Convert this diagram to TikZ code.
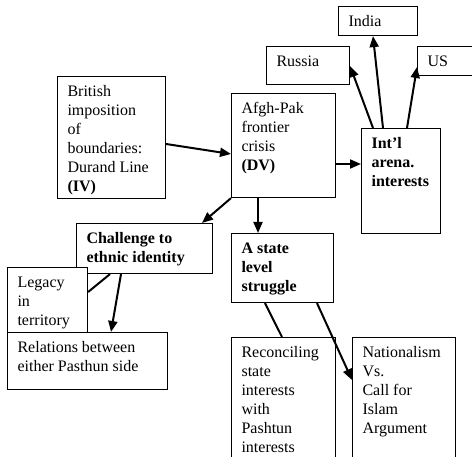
\documentclass[tikz,border=0pt]{standalone}
\usepackage{fontspec}
\setmainfont{Liberation Serif}
\usetikzlibrary{arrows.meta}

\newcommand{\boxtext}[3]{\parbox[t][#2][t]{#1}{\raggedright\leftskip=10pt\rule{0pt}{20pt}#3}}

\begin{document}
\begin{tikzpicture}[x=1pt,y=-1pt,
        box/.style={draw, fill=white, line width=1.1pt, inner sep=0pt, anchor=north west,
            font=\fontsize{16}{19}\selectfont},
        conn/.style={line width=2pt},
        tip/.style={conn, -{Triangle[length=11pt,width=9pt]}}]
    \useasboundingbox (0,0) rectangle (472,457);
    % boxes
    \node[box] (brit) at (57,76) {\boxtext{108pt}{122pt}{British\\imposition\\of\\boundaries:\\Durand Line\\\textbf{(IV)}}};
    \node[box] (afgh) at (231,93) {\boxtext{104pt}{104pt}{Afgh-Pak\\frontier\\crisis\\\textbf{(DV)}}};
    \node[box] (intl) at (361,128) {\boxtext{79pt}{105pt}{\bfseries Int’l\\arena.\\interests}};
    \node[box] (russia) at (266,46) {\boxtext{83pt}{38pt}{Russia}};
    \node[box] (india) at (338,6) {\boxtext{79pt}{29pt}{India}};
    \node[box] (us) at (417,46) {\boxtext{70pt}{29pt}{US}};
    \node[box] (chal) at (76,223) {\boxtext{136pt}{50pt}{\bfseries Challenge to\\ethnic identity}};
    \node[box] (legacy) at (7,267) {\boxtext{80pt}{65pt}{Legacy\\in\\territory}};
    \node[box] (rel) at (7,332) {\boxtext{160pt}{57pt}{Relations between\\either Pasthun side}};
    \node[box] (state) at (231,233) {\boxtext{102pt}{69pt}{\bfseries A state\\level\\struggle}};
    \node[box] (recon) at (231,337) {\boxtext{104pt}{140pt}{Reconciling\\state\\interests\\with\\Pashtun\\interests}};
    \node[box] (nat) at (352,337) {\boxtext{103pt}{140pt}{Nationalism\\Vs.\\Call for\\Islam\\Argument}};
    % connectors
    \draw[tip] (brit.east |- 0,144) -- (afgh.west |- 0,154);
    \draw[tip] (afgh.east |- 0,164) -- (intl.west |- 0,164);
    \draw[tip] (373,0 |- intl.north) -- (russia.east |- 0,66);
    \draw[tip] (383,0 |- intl.north) -- (373,0 |- india.south);
    \draw[tip] (407,0 |- intl.north) -- (us.west |- 0,67);
    \draw[tip] (afgh.south west) -- (202,0 |- chal.north);
    \draw[tip] (258,0 |- afgh.south) -- (258,0 |- state.north);
    \draw[conn] (110,0 |- chal.south) -- (legacy.east |- 0,292);
    \draw[tip] (121,0 |- chal.south) -- (111,0 |- rel.north);
    \draw[conn] (265,0 |- state.south) -- (282,0 |- recon.north);
    \draw[tip] (317,0 |- state.south) -- (nat.west |- 0,380);
\end{tikzpicture}
\end{document}
